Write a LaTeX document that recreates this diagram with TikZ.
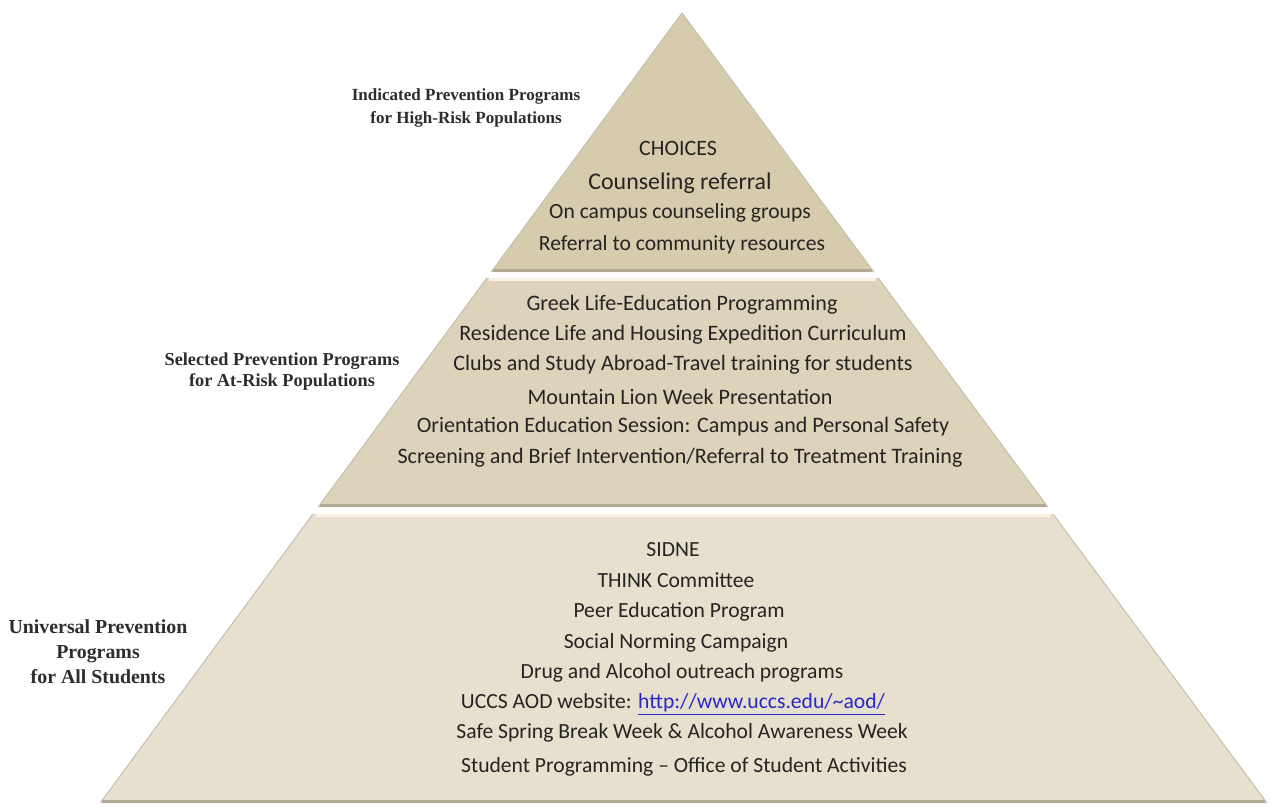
\documentclass[tikz,border=0pt]{standalone}
\usepackage{fontspec}
\setmainfont{Carlito}
\newfontfamily\sidefont{Liberation Serif}

\definecolor{topfill}{RGB}{215,203,173}
\definecolor{midfill}{RGB}{221,211,186}
\definecolor{lowfill}{RGB}{232,224,206}
\definecolor{edgeline}{RGB}{200,192,176}
\definecolor{shadowline}{RGB}{178,168,148}
\definecolor{lightline}{RGB}{248,243,228}
\definecolor{itemtext}{RGB}{38,36,34}
\definecolor{sidetext}{RGB}{45,45,45}
\definecolor{linkblue}{RGB}{40,40,200}

\tikzset{
  item/.style={inner sep=0pt, text=itemtext, font=\fontsize{12.3}{14}\selectfont},
  miditem/.style={item, font=\fontsize{12.55}{14}\selectfont},
  side/.style={inner sep=0pt, align=center, text=sidetext},
  shadowband/.style={draw=shadowline, line width=2.2pt},
  lightband/.style={draw=lightline, line width=1.6pt},
}

\begin{document}
\begin{tikzpicture}[x=0.02cm,y=-0.02cm]
  \useasboundingbox (0,0) rectangle (1277,808);

  % tiers
  \fill[topfill] (682,13) -- (873.8,272) -- (491.2,272) -- cycle;
  \fill[midfill] (486.8,278) -- (878.2,278) -- (1047.8,507) -- (318.2,507) -- cycle;
  \fill[lowfill] (313,514) -- (1053,514) -- (1267,803) -- (100.2,803) -- cycle;

  \draw[shadowband] (493,270.5) -- (872,270.5);
  \draw[shadowband] (320,505.5) -- (1046,505.5);
  \draw[shadowband] (102,801.5) -- (1265,801.5);
  \draw[lightband] (489,279.5) -- (876,279.5);
  \draw[lightband] (316,515.5) -- (1050,515.5);

  \draw[edgeline, line width=0.6pt] (491.2,272) -- (682,13) -- (873.8,272);
  \draw[edgeline, line width=0.6pt] (318.2,507) -- (486.8,278);
  \draw[edgeline, line width=0.6pt] (878.2,278) -- (1047.8,507);
  \draw[edgeline, line width=0.6pt] (100.2,803) -- (313,514);
  \draw[edgeline, line width=0.6pt] (1053,514) -- (1267,803);

  % top tier
  \node[item, font=\fontsize{12.5}{14}\selectfont] (choices) at (678,148) {CHOICES};
  \node[item, font=\fontsize{13.6}{15}\selectfont] (counsel) at (680,183) {Counseling referral};
  \node[item] (groups)    at (680,213) {On campus counseling groups};
  \node[item] (community) at (682,245) {Referral to community resources};

  % middle tier
  \node[miditem] (greek)     at (682,305) {Greek Life-Education Programming};
  \node[miditem] (residence) at (683,335) {Residence Life and Housing Expedition Curriculum};
  \node[miditem] (clubs)     at (683,365) {Clubs and Study Abroad-Travel training for students};
  \node[miditem] (lion)      at (680,397) {Mountain Lion Week Presentation};
  \node[miditem] (orient)    at (683,427) {Orientation Education Session: Campus and Personal Safety};
  \node[miditem] (screen)    at (680,458) {Screening and  Brief Intervention/Referral to Treatment Training};

  % bottom tier
  \node[item] (sidne)      at (673,550) {SIDNE};
  \node[item] (think)      at (676,580) {THINK Committee};
  \node[item] (peer)       at (679,612) {Peer Education Program};
  \node[item] (norming)    at (676,643) {Social Norming Campaign};
  \node[item] (outreach)   at (682,673) {Drug and Alcohol  outreach programs};
  \node[item] (website)    at (673,704) {UCCS AOD website: \textcolor{linkblue}{\underline{http://www.uccs.edu/\textasciitilde aod/}}};
  \node[item] (spring)     at (682,733) {Safe Spring Break Week \& Alcohol  Awareness Week};
  \node[item] (activities) at (684,767) {Student  Programming -- Office of Student  Activities};

  % side labels
  \node[side, font=\sidefont\bfseries\fontsize{9.7}{13}\selectfont] (indicated) at (466,108)
    {Indicated Prevention Programs\\for High-Risk Populations};
  \node[side, font=\sidefont\bfseries\fontsize{10.4}{12}\selectfont] (selected) at (282,372)
    {Selected Prevention Programs\\for At-Risk Populations};
  \node[side, font=\sidefont\bfseries\fontsize{11.3}{14.2}\selectfont] (universal) at (98,652)
    {Universal Prevention\\Programs\\for All Students};

\end{tikzpicture}
\end{document}
